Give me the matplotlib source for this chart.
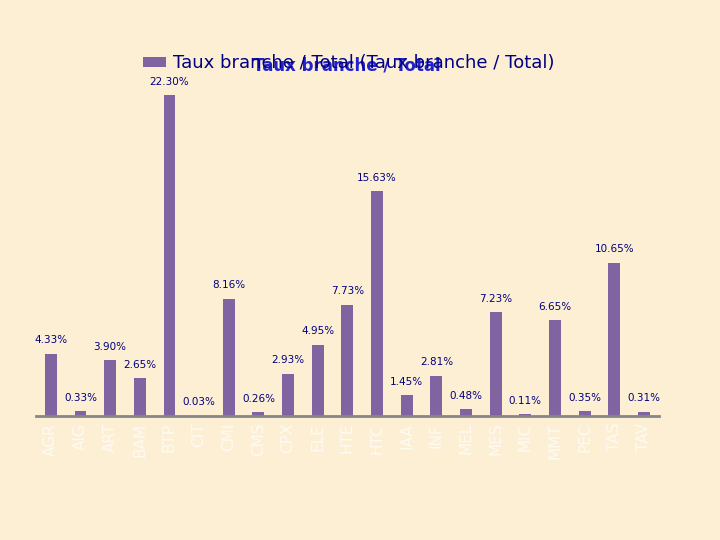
import matplotlib.pyplot as plt
import numpy as np

categories = ['AGR', 'AIG', 'ART', 'BAM', 'BTP', 'CIT', 'CMI', 'CMS', 'CPX', 'ELE', 'HTE',
              'HTC', 'IAA', 'INF', 'MEL', 'MES', 'MIC', 'MMT', 'PEC', 'TAS', 'TAV']
values = [4.33, 0.33, 3.90, 2.65, 22.30, 0.03, 8.16, 0.26, 2.93, 4.95, 7.73,
          15.63, 1.45, 2.81, 0.48, 7.23, 0.11, 6.65, 0.35, 10.65, 0.31]
series_name = 'Taux branche / Total (Taux branche / Total)'
title = 'Taux branche / Total'

bg = '#fcefd3'
bar_color = '#8064a2'
navy = '#000080'

fig = plt.figure(figsize=(7.2, 5.4), dpi=100, facecolor=bg)
ax = fig.add_axes([0.05, 0.2296, 0.865, 0.6667])
ax.set_facecolor(bg)

x = np.arange(len(categories))
bars = ax.bar(x, values, width=0.4, color=bar_color, label=series_name, zorder=2)

for xi, v in zip(x, values):
    ax.annotate(f'{v:.2f}%', (xi, v), xytext=(0, 6), textcoords='offset points',
                ha='center', va='bottom', fontsize=7.5, color=navy, annotation_clip=False)

ax.set_xlim(-0.5, len(categories) - 0.5)
ax.set_ylim(0, 25)
ax.set_yticks([])
for s in ['left', 'right', 'top']:
    ax.spines[s].set_visible(False)
ax.spines['bottom'].set_color('#868686')
ax.spines['bottom'].set_linewidth(2)
ax.set_xticks(x)
ax.set_xticklabels(categories, rotation=90, fontsize=11, color='white', alpha=0.75)
ax.tick_params(axis='x', length=0, pad=5)

fig.legend(handles=[bars], labels=[series_name], loc='center left',
           bbox_to_anchor=(0.176, 0.883), frameon=False, fontsize=13,
           handlelength=1.3, handleheight=0.45, handletextpad=0.35,
           labelcolor=navy)
fig.text(0.482, 0.879, title, ha='center', va='center', fontsize=12,
         fontweight='bold', color='#2222cc')

fig.savefig('out.png', dpi=100, facecolor=bg)
